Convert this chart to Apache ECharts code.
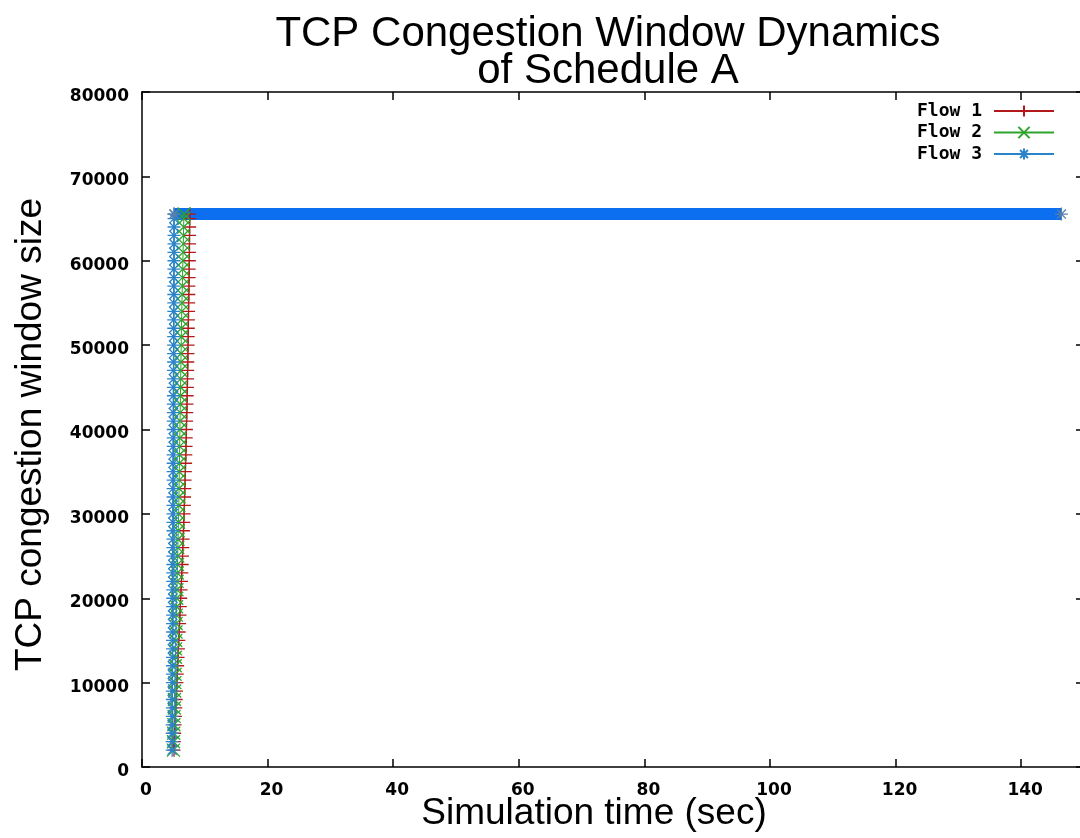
<!DOCTYPE html>
<html>
<head>
<meta charset="utf-8">
<script src="https://cdn.jsdelivr.net/npm/echarts@6/dist/echarts.min.js"></script>
<style>html,body{margin:0;padding:0;background:#fff}#c{width:1080px;height:838px}</style>
</head>
<body>
<div id="c"></div>
<script>
// congestion window levels (bytes) visited during slow start, bottom to top
var cwndLevels = [2000,3000,4000,5000,6000,7000,8000,9000,10000,11000,
  12000,13000,14000,15000,16000,17000,18000,19000,20000,21000,
  22000,23000,24000,25000,26000,27000,28000,29000,30000,31000,
  32000,33000,34000,35000,36000,37000,38000,39000,40000,41000,
  42000,43000,44000,45000,46000,47000,48000,49000,50000,51000,
  52000,53000,54000,55000,56000,57000,58000,59000,60000,61000,
  62000,63000,64000,65000,65535];
// time (sec) at which each level was reached, per flow
var flow1Times = [5.10,5.15,5.20,5.26,5.32,5.38,5.44,5.50,5.56,5.62,
  5.68,5.74,5.80,5.86,5.92,5.98,6.04,6.10,6.16,6.22,
  6.28,6.34,6.40,6.45,6.50,6.55,6.60,6.65,6.70,6.74,
  6.78,6.82,6.86,6.90,6.94,6.98,7.01,7.04,7.07,7.10,
  7.13,7.16,7.19,7.22,7.25,7.27,7.29,7.31,7.33,7.35,
  7.37,7.39,7.41,7.43,7.45,7.47,7.49,7.51,7.53,7.55,
  7.56,7.57,7.58,7.59,7.60];
var flow2Times = [5.00,5.02,5.05,5.08,5.11,5.14,5.17,5.20,5.23,5.26,
  5.29,5.32,5.35,5.38,5.41,5.44,5.47,5.50,5.53,5.56,
  5.59,5.62,5.65,5.68,5.71,5.74,5.77,5.80,5.83,5.86,
  5.88,5.90,5.92,5.94,5.96,5.98,6.00,6.02,6.04,6.06,
  6.08,6.10,6.12,6.14,6.16,6.18,6.20,6.22,6.24,6.26,
  6.28,6.30,6.33,6.36,6.39,6.42,6.45,6.48,6.51,6.54,
  6.57,6.60,6.63,6.66,6.70];
var flow3Times = [4.80,4.80,4.81,4.81,4.82,4.82,4.83,4.83,4.84,4.84,
  4.85,4.85,4.86,4.86,4.87,4.87,4.88,4.88,4.89,4.89,
  4.90,4.90,4.91,4.91,4.92,4.92,4.93,4.93,4.94,4.94,
  4.95,4.95,4.96,4.96,4.97,4.97,4.98,4.98,4.99,4.99,
  5.00,5.00,5.01,5.01,5.02,5.02,5.03,5.03,5.04,5.04,
  5.05,5.05,5.06,5.06,5.07,5.07,5.08,5.08,5.09,5.09,
  5.10,5.10,5.10,5.10,5.10];
// plateau: window capped at 65535 until end of simulation
var plateauCwnd = 65535;
var plateauEnd = 146.4;

var flowNames = ['Flow 1','Flow 2','Flow 3'];
var xTicks = [0,20,40,60,80,100,120,140];
var yTicks = [0,10000,20000,30000,40000,50000,60000,70000,80000];

var colors = ['#b3191c','#2ea32e','#2b83c9'];
var plateauColors = ['#c0282a','#37b037','#0b6ff0'];
var symbols = [
  'path://M0,5L10,5M5,0L5,10',
  'path://M0,0L10,10M10,0L0,10',
  'path://M0,5L10,5M5,0L5,10M1.5,1.5L8.5,8.5M8.5,1.5L1.5,8.5'
];
var timesList = [flow1Times, flow2Times, flow3Times];

function pairs(times){ return times.map(function(t,i){ return [t, cwndLevels[i]]; }); }

var series = [];
for (var k = 0; k < 3; k++) {
  var tms = timesList[k];
  series.push({
    name: flowNames[k], type: 'line', data: pairs(tms),
    symbol: symbols[k], symbolSize: 13, showAllSymbol: true,
    lineStyle: {color: colors[k], width: 1},
    itemStyle: {color: colors[k], borderColor: colors[k], borderWidth: 1.3},
    emphasis: {disabled: true}, animation: false
  });
  series.push({
    name: flowNames[k], type: 'line',
    data: [[tms[tms.length-1], plateauCwnd],[plateauEnd, plateauCwnd]],
    symbol: k === 2 ? symbols[k] : 'none', symbolSize: 13,
    lineStyle: {color: plateauColors[k], width: 12},
    itemStyle: {color: '#5a7fa8', borderColor: '#5a7fa8', borderWidth: 1.3},
    emphasis: {disabled: true}, animation: false
  });
}

var tickFont = {fontFamily: 'DejaVu Sans', fontWeight: 'bold', fontSize: 17, color: '#000'};

var chart = echarts.init(document.getElementById('c'), null, {renderer: 'canvas'});
chart.setOption({
  backgroundColor: '#fff',
  animation: false,
  title: {
    text: 'TCP Congestion Window Dynamics\nof Schedule A',
    left: 603, top: 11, textAlign: 'center',
    textStyle: {fontFamily: 'Liberation Sans', fontWeight: 'normal', fontSize: 42, lineHeight: 37, color: '#000'}
  },
  legend: {
    data: flowNames, orient: 'vertical', right: 20, top: 97, itemGap: 3.5,
    align: 'right', itemWidth: 60, itemHeight: 14,
    textStyle: {fontFamily: 'DejaVu Sans Mono', fontWeight: 'bold', fontSize: 18, lineHeight: 18, color: '#000', padding: [0, 7, 0, 0]}
  },
  grid: {left: 142, top: 92, width: 942, height: 675, containLabel: false, outerBoundsMode: 'none'},
  xAxis: [{
    type: 'value', min: xTicks[0], max: 150, interval: 20,
    name: 'Simulation time (sec)', nameLocation: 'middle', nameGap: 28, nameMoveOverlap: false,
    nameTextStyle: {fontFamily: 'Liberation Sans', fontSize: 37, color: '#000', padding: [0, 38, 0, 0]},
    axisLine: {show: true, lineStyle: {color: '#000', width: 1.5}},
    axisTick: {inside: true, length: 8, lineStyle: {color: '#000', width: 1.5}},
    axisLabel: Object.assign({margin: 15, padding: [0, 0, 0, 8], showMaxLabel: false,
      formatter: function(v){return xTicks.indexOf(v) >= 0 ? String(v) : '';}}, tickFont),
    splitLine: {show: false}
  }, {
    type: 'value', position: 'top', min: xTicks[0], max: 150, interval: 20,
    axisLine: {show: true, onZero: false, lineStyle: {color: '#000', width: 1.5}},
    axisTick: {inside: true, length: 8, lineStyle: {color: '#000', width: 1.5}},
    axisLabel: {show: false}, splitLine: {show: false}
  }],
  yAxis: [{
    type: 'value', min: yTicks[0], max: yTicks[yTicks.length-1], interval: 10000,
    name: 'TCP congestion window size', nameLocation: 'middle', nameGap: 93, nameMoveOverlap: false,
    nameTextStyle: {fontFamily: 'Liberation Sans', fontSize: 37, color: '#000', padding: [0, 10, 0, 0]},
    axisLine: {show: true, lineStyle: {color: '#000', width: 1.5}},
    axisTick: {inside: true, length: 8, lineStyle: {color: '#000', width: 1.5}},
    axisLabel: Object.assign({margin: 13, verticalAlign: 'top', lineHeight: 9, formatter: function(v){return String(v);}}, tickFont),
    splitLine: {show: false}
  }, {
    type: 'value', position: 'right', min: yTicks[0], max: yTicks[yTicks.length-1], interval: 10000,
    axisLine: {show: false, onZero: false},
    axisTick: {show: true, inside: true, length: 8, lineStyle: {color: '#000', width: 1.5}},
    axisLabel: {show: false}, splitLine: {show: false}
  }],
  series: series
});
</script>
</body>
</html>
